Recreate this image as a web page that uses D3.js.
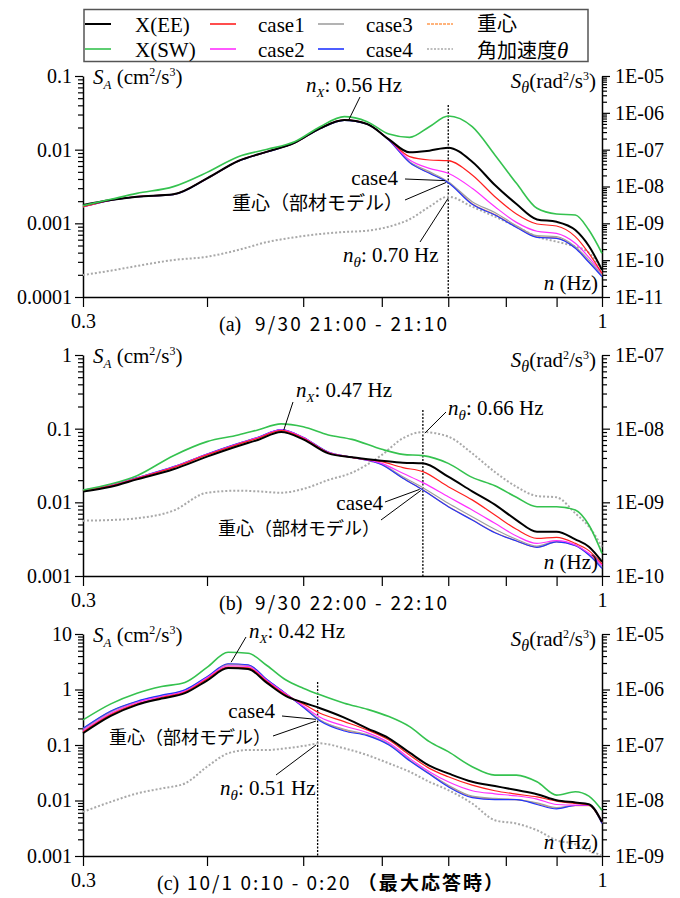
<!DOCTYPE html>
<html><head><meta charset="utf-8">
<script src="https://cdn.jsdelivr.net/npm/d3@7/dist/d3.min.js"></script>
<style>body{margin:0;background:#fff;} svg{display:block;}</style>
</head><body>
<svg id="chart" width="680" height="898"></svg>
<script>
// ---------------- data ----------------
const legendNames = ['X(EE)','X(SW)','case1','case2','case3','case4','重心','角加速度'];
const xTickVals = [0.3,0.4,0.5,0.6,0.7,0.8,0.9,1.0];
const xTickLabels = ['0.3','','','','','','','1'];

// (a) 9/30 21:00 - 21:10
const freqA = [0.30,0.32,0.34,0.37,0.40,0.43,0.46,0.49,0.52,0.55,0.58,0.61,0.64,0.67,0.70,0.74,0.78,0.82,0.86,0.90,0.94,0.97,1.00];
const aEE = [1.77e-3,2.07e-3,2.30e-3,2.48e-3,4.08e-3,7.02e-3,9.40e-3,1.24e-2,1.95e-2,2.53e-2,2.23e-2,1.38e-2,9.2e-3,9.7e-3,1.06e-2,6.87e-3,3.31e-3,1.83e-3,1.13e-3,1.05e-3,8.1e-4,4.92e-4,2.33e-4];
const aSW = [1.74e-3,2.12e-3,2.55e-3,3.15e-3,4.92e-3,8.04e-3,1.01e-2,1.28e-2,2.05e-2,2.81e-2,2.40e-2,1.63e-2,1.47e-2,2.05e-2,2.86e-2,2.05e-2,8.47e-3,3.49e-3,1.60e-3,1.34e-3,1.30e-3,8.1e-4,3.92e-4];
const a1  = [1.68e-3,2.07e-3,2.30e-3,2.48e-3,4.08e-3,7.02e-3,9.40e-3,1.24e-2,1.95e-2,2.53e-2,2.23e-2,1.37e-2,8.04e-3,7.24e-3,7.09e-3,4.53e-3,2.30e-3,1.34e-3,9.8e-4,9.2e-4,6.6e-4,3.92e-4,2.09e-4];
const a2  = [1.68e-3,2.07e-3,2.30e-3,2.48e-3,4.08e-3,7.02e-3,9.40e-3,1.24e-2,1.95e-2,2.53e-2,2.23e-2,1.36e-2,7.24e-3,5.58e-3,4.78e-3,2.99e-3,1.68e-3,1.03e-3,7.8e-4,7.3e-4,5.36e-4,3.45e-4,2.09e-4];
const a3  = [1.68e-3,2.05e-3,2.28e-3,2.48e-3,4.04e-3,6.95e-3,9.3e-3,1.23e-2,1.93e-2,2.50e-2,2.21e-2,1.35e-2,6.87e-3,5.03e-3,3.68e-3,1.97e-3,1.40e-3,9.3e-4,6.8e-4,6.6e-4,4.82e-4,3.18e-4,1.99e-4];
const a4  = [1.68e-3,2.05e-3,2.28e-3,2.45e-3,4.04e-3,6.95e-3,9.3e-3,1.23e-2,1.93e-2,2.50e-2,2.21e-2,1.34e-2,6.67e-3,4.78e-3,3.56e-3,1.81e-3,1.30e-3,8.8e-4,6.46e-4,6.25e-4,4.58e-4,2.96e-4,1.89e-4];
const aCG = [1.69e-3,2.06e-3,2.29e-3,2.46e-3,4.05e-3,6.97e-3,9.32e-3,1.23e-2,1.94e-2,2.51e-2,2.22e-2,1.35e-2,6.75e-3,4.85e-3,3.6e-3,1.85e-3,1.32e-3,9.0e-4,6.55e-4,6.35e-4,4.65e-4,3.0e-4,1.92e-4];
const aTh = [3.95e-11,5.19e-11,6.95e-11,1.01e-10,1.24e-10,1.89e-10,3.11e-10,4.17e-10,5.13e-10,5.82e-10,6.32e-10,8.13e-10,1.29e-9,2.83e-9,5.30e-9,2.83e-9,1.52e-9,8.13e-10,4.35e-10,3.18e-10,2.33e-10,1.60e-10,5.41e-11];
const leftLabelsA = ['0.1','0.01','0.001','0.0001'];
const rightLabelsA = ['1E-05','1E-06','1E-07','1E-08','1E-09','1E-10','1E-11'];

// (b) 9/30 22:00 - 22:10
const freqB = [0.30,0.32,0.34,0.37,0.40,0.43,0.45,0.475,0.50,0.53,0.56,0.60,0.63,0.66,0.70,0.74,0.78,0.82,0.86,0.90,0.94,0.97,1.00];
const bEE = [1.40e-2,1.63e-2,2.05e-2,2.81e-2,4.17e-2,5.82e-2,7.02e-2,9.0e-2,7.16e-2,4.62e-2,4.08e-2,3.68e-2,3.45e-2,3.38e-2,2.23e-2,1.41e-2,9.3e-3,5.75e-3,4.0e-3,4.0e-3,3.15e-3,2.50e-3,1.57e-3];
const bSW = [1.47e-2,1.77e-2,2.3e-2,4.3e-2,6.67e-2,8.2e-2,9.6e-2,1.16e-1,1.06e-1,8.2e-2,7.16e-2,5.24e-2,4.48e-2,4.30e-2,3.38e-2,2.18e-2,1.68e-2,1.17e-2,8.73e-3,8.73e-3,7.87e-3,4.92e-3,2.03e-3];
const b1  = [1.44e-2,1.68e-2,2.12e-2,2.96e-2,4.40e-2,6.12e-2,7.4e-2,9.4e-2,7.4e-2,4.72e-2,4.08e-2,3.56e-2,2.96e-2,2.61e-2,1.63e-2,1.08e-2,6.73e-3,4.30e-3,3.24e-3,3.35e-3,2.77e-3,2.21e-3,1.46e-3];
const b2  = [1.47e-2,1.70e-2,2.14e-2,3.02e-2,4.48e-2,6.25e-2,7.55e-2,9.6e-2,7.55e-2,4.77e-2,4.08e-2,3.38e-2,2.48e-2,1.85e-2,1.19e-2,7.87e-3,5.19e-3,3.49e-3,2.77e-3,3.02e-3,2.64e-3,2.03e-3,1.40e-3];
const b3  = [1.47e-2,1.70e-2,2.14e-2,3.02e-2,4.48e-2,6.25e-2,7.55e-2,9.6e-2,7.55e-2,4.77e-2,4.08e-2,3.31e-2,2.23e-2,1.58e-2,9.7e-3,6.39e-3,4.30e-3,3.15e-3,2.55e-3,2.96e-3,2.64e-3,1.99e-3,1.34e-3];
const b4  = [1.47e-2,1.70e-2,2.16e-2,3.05e-2,4.53e-2,6.32e-2,7.62e-2,9.7e-2,7.62e-2,4.82e-2,4.08e-2,3.24e-2,2.12e-2,1.47e-2,8.73e-3,5.75e-3,3.87e-3,2.99e-3,2.45e-3,2.90e-3,2.58e-3,1.93e-3,1.27e-3];
const bCG = [1.46e-2,1.69e-2,2.15e-2,3.04e-2,4.50e-2,6.28e-2,7.58e-2,9.65e-2,7.6e-2,4.8e-2,4.08e-2,3.26e-2,2.14e-2,1.48e-2,8.8e-3,5.8e-3,3.9e-3,3.0e-3,2.46e-3,2.9e-3,2.6e-3,1.95e-3,1.28e-3];
const bTh = [5.64e-10,5.75e-10,6.07e-10,7.71e-10,1.35e-9,1.44e-9,1.41e-9,1.35e-9,1.52e-9,2.01e-9,2.53e-9,4.40e-9,7.4e-9,9.0e-9,7.8e-9,4.62e-9,2.58e-9,1.63e-9,1.22e-9,1.17e-9,7.10e-10,4.68e-10,2.50e-10];
const leftLabelsB = ['1','0.1','0.01','0.001'];
const rightLabelsB = ['1E-07','1E-08','1E-09','1E-10'];

// (c) 10/1 0:10 - 0:20
const freqC = [0.30,0.32,0.34,0.36,0.38,0.40,0.42,0.44,0.46,0.48,0.50,0.52,0.55,0.58,0.61,0.64,0.67,0.70,0.74,0.78,0.82,0.86,0.90,0.94,0.97,1.00];
const cEE = [0.1625,0.334,0.528,0.687,0.859,1.45,2.43,2.33,1.30,0.768,0.582,0.460,0.312,0.200,0.132,0.0727,0.0423,0.0308,0.0217,0.0182,0.0154,0.0130,0.0101,0.00921,0.00859,0.00411];
const cSW = [0.283,0.551,0.859,1.133,1.339,2.5,4.7,4.5,2.68,1.496,1.057,0.801,0.566,0.441,0.325,0.214,0.115,0.0758,0.0406,0.0287,0.0287,0.0217,0.0125,0.0144,0.0120,0.00668];
const c1  = [0.172,0.353,0.551,0.717,0.895,1.55,2.53,2.46,1.38,0.801,0.551,0.373,0.264,0.187,0.123,0.0659,0.0379,0.0268,0.0189,0.0150,0.0130,0.0116,0.00973,0.00883,0.00836,0.00411];
const c2  = [0.1815,0.373,0.582,0.747,0.933,1.62,2.68,2.60,1.435,0.835,0.507,0.316,0.220,0.167,0.110,0.0574,0.0330,0.0217,0.0150,0.0132,0.0121,0.0106,0.00848,0.00824,0.00824,0.00411];
const c3  = [0.192,0.395,0.598,0.768,0.959,1.66,2.79,2.71,1.475,0.847,0.493,0.283,0.192,0.154,0.104,0.0536,0.0308,0.0189,0.0120,0.0109,0.0104,0.00908,0.00746,0.00813,0.00813,0.00395];
const c4  = [0.200,0.411,0.615,0.791,0.986,1.70,2.91,2.79,1.496,0.847,0.480,0.272,0.179,0.1475,0.100,0.0521,0.0299,0.0177,0.0113,0.0104,0.0104,0.00848,0.00706,0.00813,0.00813,0.00384];
const cCG = [0.197,0.406,0.607,0.779,0.973,1.68,2.87,2.75,1.48,0.845,0.487,0.278,0.185,0.151,0.102,0.053,0.0303,0.0183,0.0116,0.0106,0.0104,0.0088,0.0073,0.0081,0.0081,0.0039];
const cTh = [6.24e-9,9.46e-9,1.34e-8,1.65e-8,2.03e-8,4.06e-8,7.07e-8,8.13e-8,8.13e-8,8.71e-8,9.6e-8,1.07e-7,8.71e-8,6.59e-8,4.67e-8,3.30e-8,2.17e-8,1.54e-8,8.83e-9,4.41e-9,3.84e-9,2.91e-9,1.92e-9,1.63e-9,1.26e-9,1.02e-9];
const leftLabelsC = ['10','1','0.1','0.01','0.001'];
const rightLabelsC = ['1E-05','1E-06','1E-07','1E-08','1E-09'];

// annotation values
const nXa = 0.56, nTha = 0.70;
const nXb = 0.47, nThb = 0.66;
const nXc = 0.42, nThc = 0.51, nThcLine = 0.517;

// ---------------- drawing ----------------
const SERIF = '"Liberation Serif","Times New Roman",serif';
const JP = '"Noto Sans CJK JP","Noto Sans",sans-serif';
const svg = d3.select('#chart');
const X0 = 83, X1 = 602;
const x = d3.scaleLog().domain([0.3, 1]).range([X0, X1]);

const styles = {
  TH:{color:'#a9a9a9', w:2.0, dash:'2,2'},
  CG:{color:'#ff9a50', w:1.2},
  c3:{color:'#a0a0a0', w:1.2},
  c4:{color:'#2035ff', w:1.2},
  c2:{color:'#ff30ff', w:1.2},
  c1:{color:'#ff2020', w:1.2},
  EE:{color:'#000000', w:2.0},
  SW:{color:'#35c24f', w:1.6}
};

function rich(parent, xx, yy, parts, opt) {
  opt = opt || {};
  const t = parent.append('text').attr('x', xx).attr('y', yy)
    .style('font-family', opt.family || SERIF).attr('font-size', opt.size || 21)
    .attr('text-anchor', opt.anchor || 'start').attr('fill', '#000');
  let cur = 0;
  parts.forEach(p => {
    const shift = p.sub ? 5 : (p.sup ? -8 : 0);
    const ts = t.append('tspan').text(p.t).attr('dy', shift - cur);
    cur = shift;
    if (p.i) ts.attr('font-style', 'italic');
    if (p.sub) ts.attr('font-size', 14);
    if (p.sup) ts.attr('font-size', 12);
    if (p.f) ts.style('font-family', p.f);
    if (p.s) ts.attr('font-size', p.s);
  });
  return t;
}

function minorVals(dom) {
  const lo = Math.round(Math.log10(dom[0])), hi = Math.round(Math.log10(dom[1]));
  const arr = [];
  for (let e = lo; e < hi; e++) for (let k = 2; k <= 9; k++) arr.push(k * Math.pow(10, e));
  return arr;
}

function styleAxis(g) {
  g.attr('font-family', null).style('font-family', SERIF).attr('font-size', 20);
  g.selectAll('path.domain').attr('stroke', '#000').attr('stroke-width', 1.5);
  g.selectAll('.tick line').attr('stroke', '#000').attr('stroke-width', 1.2);
  g.selectAll('.tick text').attr('fill', '#000');
}

function drawPanel(p) {
  const g = svg.append('g');
  const lVals = p.lLabels.map(Number), rVals = p.rLabels.map(Number);
  const lDom = d3.extent(lVals), rDom = d3.extent(rVals);
  const yL = d3.scaleLog().domain(lDom).range([p.bottom, p.top]);
  const yR = d3.scaleLog().domain(rDom).range([p.bottom, p.top]);

  const gl = g.append('g').attr('transform', `translate(${X0},0)`);
  gl.append('g').call(d3.axisLeft(yL).tickValues(minorVals(lDom)).tickSize(5).tickFormat('')).call(s => s.select('.domain').remove()).call(styleAxis);
  gl.append('g').call(d3.axisLeft(yL).tickValues(lVals).tickSize(8).tickSizeOuter(0).tickPadding(3)
    .tickFormat(d => p.lLabels[lVals.indexOf(d)])).call(styleAxis);

  const gr = g.append('g').attr('transform', `translate(${X1},0)`);
  gr.append('g').call(d3.axisRight(yR).tickValues(minorVals(rDom)).tickSize(5).tickFormat('')).call(s => s.select('.domain').remove()).call(styleAxis);
  gr.append('g').call(d3.axisRight(yR).tickValues(rVals).tickSize(8).tickSizeOuter(0).tickPadding(5)
    .tickFormat(d => p.rLabels[rVals.indexOf(d)])).call(styleAxis);

  const gx = g.append('g').attr('transform', `translate(0,${p.bottom})`);
  gx.call(d3.axisBottom(x).tickValues(xTickVals).tickSize(10).tickSizeOuter(0).tickPadding(7)
    .tickFormat((d) => xTickLabels[xTickVals.indexOf(d)])).call(styleAxis);

  g.append('line').attr('x1', x(p.nThLine)).attr('x2', x(p.nThLine))
    .attr('y1', p.vTop).attr('y2', p.bottom)
    .attr('stroke', '#000').attr('stroke-width', 1.3).attr('stroke-dasharray', '2,1.5');

  const order = ['TH','CG','c3','c4','c2','c1','EE','SW'];
  order.forEach(k => {
    const st = styles[k];
    const vals = k === 'TH' ? p.th : p.s[k];
    const ys = k === 'TH' ? yR : yL;
    const line = d3.line().x((d, i) => x(p.freq[i])).y(d => ys(d)).curve(d3.curveMonotoneX);
    g.append('path').attr('d', line(vals)).attr('fill', 'none')
      .attr('stroke', st.color).attr('stroke-width', st.w)
      .attr('stroke-dasharray', st.dash || null).attr('stroke-linejoin', 'round');
  });

  rich(g, 93, p.top + 8, [{t:'S', i:1}, {t:'A', i:1, sub:1, s:13}, {t:' (cm'}, {t:'2', sup:1}, {t:'/s'}, {t:'3', sup:1}, {t:')'}], {size:21});
  rich(g, 596, p.top + 12, [{t:'S', i:1}, {t:'θ', i:1, sub:1, s:16}, {t:'(rad'}, {t:'2', sup:1}, {t:'/s'}, {t:'3', sup:1}, {t:')'}], {size:21, anchor:'end'});
  rich(g, 598, p.bottom - 7, [{t:'n', i:1}, {t:' (Hz)'}], {size:21, anchor:'end'});

  const leader = (x1, y1, fx, vy) => g.append('line').attr('x1', x1).attr('y1', y1)
    .attr('x2', x(fx)).attr('y2', yL(vy)).attr('stroke', '#000').attr('stroke-width', 1);
  const A = p.ann;
  rich(g, A.nX.x, A.nX.y, [{t:'n', i:1}, {t:'X', i:1, sub:1, s:13}, {t:': ' + p.nX.toFixed(2) + ' Hz'}], {size:21});
  leader(A.nX.lx, A.nX.ly, A.nX.to[0], A.nX.to[1]);
  rich(g, A.c4.x, A.c4.y, [{t:'case4'}], {size:21, anchor:'end'});
  leader(A.c4.lx, A.c4.ly, A.c4.to[0], A.c4.to[1]);
  rich(g, A.cg.x, A.cg.y, [{t:'重心（部材モデル）'}], {size:A.cg.size, anchor:'end', family:JP});
  leader(A.cg.lx, A.cg.ly, A.cg.to[0], A.cg.to[1]);
  rich(g, A.nT.x, A.nT.y, [{t:'n', i:1}, {t:'θ', i:1, sub:1, s:15}, {t:': ' + p.nTh.toFixed(2) + ' Hz'}], {size:21});
  leader(A.nT.lx, A.nT.ly, A.nT.to[0], A.nT.to[1]);

  const cy = p.bottom + 34;
  g.append('text').attr('x', p.capX).attr('y', cy).style('font-family', SERIF).attr('font-size', 20).attr('fill', '#000').text(p.capTag);
  const ct = g.append('text').attr('x', p.capX2).attr('y', cy).style('font-family', JP).attr('font-size', 19)
    .attr('fill', '#000').attr('textLength', p.capW).attr('lengthAdjust', 'spacing');
  ct.append('tspan').text(p.capText);
  if (p.capExtra) ct.append('tspan').attr('font-weight', 'bold').text(p.capExtra);
}

const panels = [
  {freq:freqA, s:{EE:aEE, SW:aSW, c1:a1, c2:a2, c3:a3, c4:a4, CG:aCG}, th:aTh,
   top:76, bottom:297, lLabels:leftLabelsA, rLabels:rightLabelsA,
   nX:nXa, nTh:nTha, nThLine:nTha, vTop:105,
   ann:{nX:{x:306, y:92, lx:360, ly:97, to:[0.555, 2.45e-2]},
        c4:{x:398, y:185, lx:405, ly:179, to:[0.695, 3.8e-3]},
        cg:{x:403, y:210, lx:405, ly:200, to:[0.697, 3.6e-3], size:19},
        nT:{x:343, y:262, lx:420, ly:242, to:[0.70, 2.2e-3]}},
   capX:219, capX2:255, capW:192, capTag:'(a)', capText:'9/30 21:00 - 21:10'},
  {freq:freqB, s:{EE:bEE, SW:bSW, c1:b1, c2:b2, c3:b3, c4:b4, CG:bCG}, th:bTh,
   top:355, bottom:576, lLabels:leftLabelsB, rLabels:rightLabelsB,
   nX:nXb, nTh:nThb, nThLine:nThb, vTop:410,
   ann:{nX:{x:296, y:397, lx:293, ly:402, to:[0.478, 9.6e-2]},
        c4:{x:383, y:510, lx:385, ly:502, to:[0.655, 1.5e-2]},
        cg:{x:380, y:535, lx:381, ly:520, to:[0.657, 1.45e-2], size:18},
        nT:{x:448, y:415, lx:446, ly:412, to:[0.663, 8.7e-2]}},
   capX:219, capX2:255, capW:192, capTag:'(b)', capText:'9/30 22:00 - 22:10'},
  {freq:freqC, s:{EE:cEE, SW:cSW, c1:c1, c2:c2, c3:c3, c4:c4, CG:cCG}, th:cTh,
   top:634, bottom:856, lLabels:leftLabelsC, rLabels:rightLabelsC,
   nX:nXc, nTh:nThc, nThLine:nThcLine, vTop:682,
   ann:{nX:{x:249, y:638, lx:246, ly:637, to:[0.423, 3.1]},
        c4:{x:275, y:718, lx:282, ly:716, to:[0.515, 0.29]},
        cg:{x:271, y:744, lx:273, ly:736, to:[0.515, 0.27], size:18},
        nT:{x:220, y:795, lx:276, ly:775, to:[0.515, 0.10]}},
   capX:157, capX2:187, capW:316, capTag:'(c)', capText:'10/1 0:10 - 0:20 ', capExtra:'（最大応答時）'}
];
panels.forEach(drawPanel);

// legend
const lg = svg.append('g');
lg.append('rect').attr('x', 84).attr('y', 9.5).attr('width', 504).attr('height', 52)
  .attr('fill', 'none').attr('stroke', '#555').attr('stroke-width', 1.5);
const legendKeys = ['EE','SW','c1','c2','c3','c4','CG','TH'];
const colLineX = [85, 210, 318, 427], colTextX = [135, 258, 366, 477];
const rowY = [24, 49];
legendKeys.forEach((k, i) => {
  const col = Math.floor(i / 2), row = i % 2;
  const st = styles[k];
  lg.append('line').attr('x1', colLineX[col]).attr('x2', colLineX[col] + 26)
    .attr('y1', rowY[row]).attr('y2', rowY[row])
    .attr('stroke', st.color).attr('stroke-width', k === 'EE' ? 2 : 1.6)
    .attr('stroke-dasharray', k === 'TH' ? '2,1.5' : (k === 'CG' ? '3,1' : null));
  const name = legendNames[i];
  if (k === 'CG') {
    rich(lg, colTextX[col], 31, [{t:name}], {size:20, family:JP});
  } else if (k === 'TH') {
    rich(lg, colTextX[col], 58, [{t:name, f:JP}, {t:'θ', i:1, f:SERIF, s:23}], {size:20});
  } else {
    rich(lg, colTextX[col], rowY[row] + 8, [{t:name}], {size:21});
  }
});
</script>
</body></html>
